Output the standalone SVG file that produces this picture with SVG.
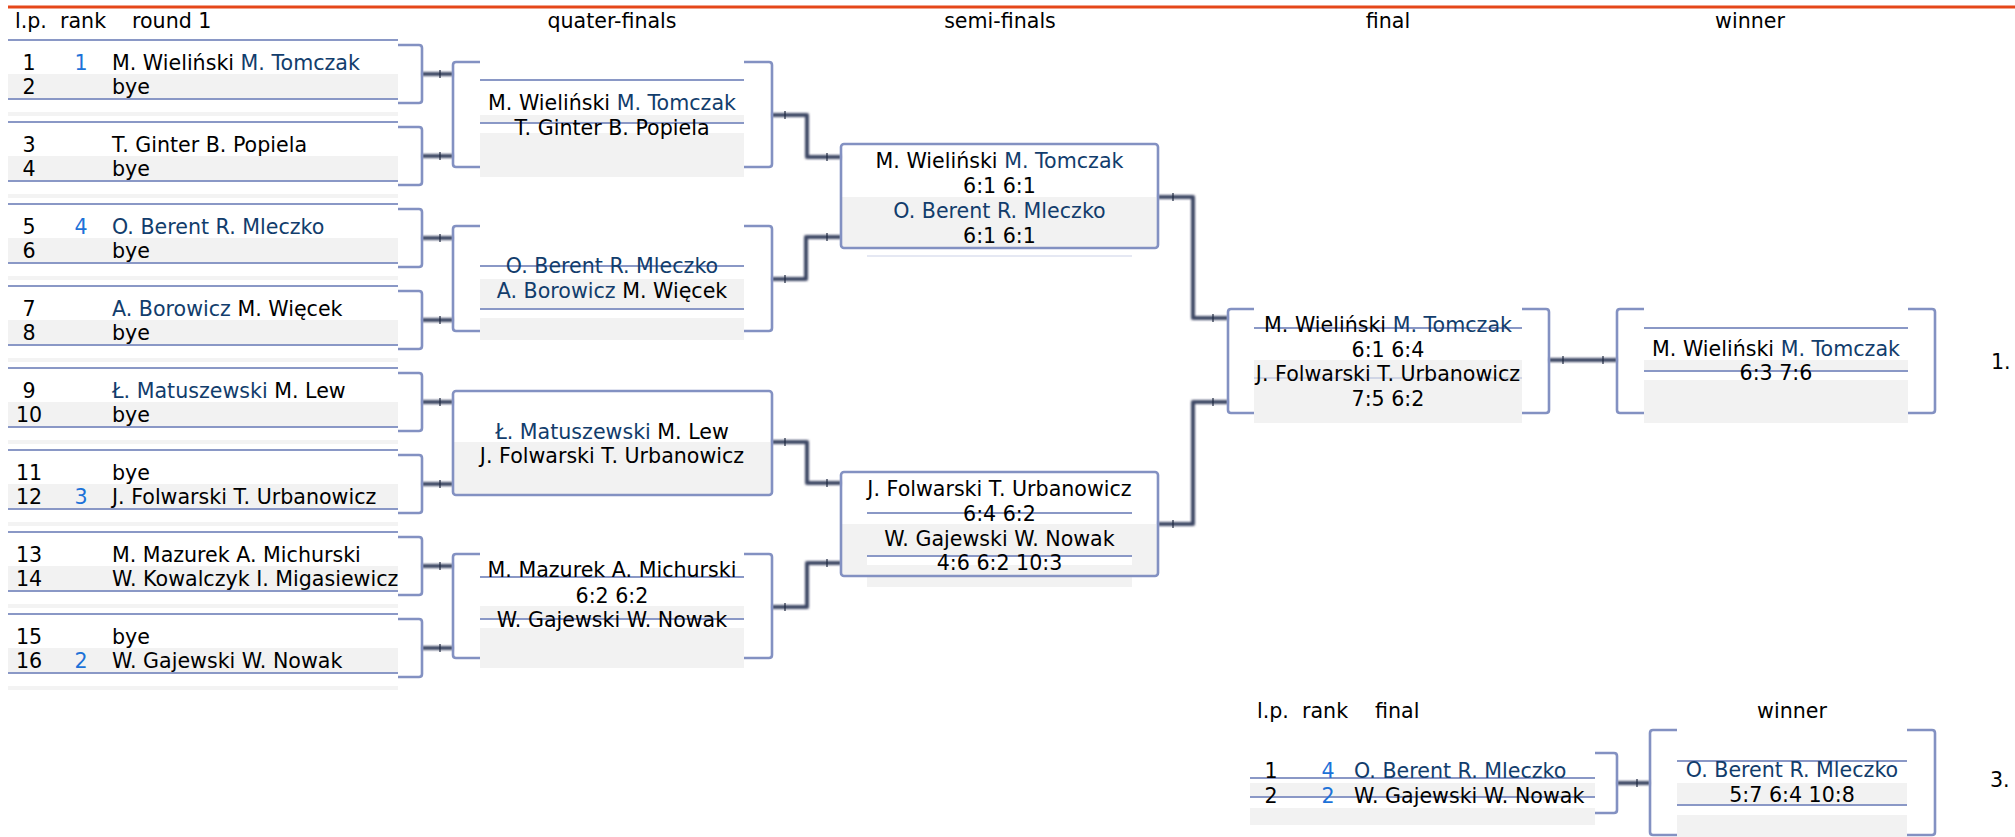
<svg xmlns="http://www.w3.org/2000/svg" width="2015" height="837" viewBox="0 0 2015 837">
<defs>
<filter id="soft" x="-5%" y="-5%" width="110%" height="110%"><feGaussianBlur stdDeviation="0.5"/></filter>
<filter id="soft2" x="-5%" y="-5%" width="110%" height="110%"><feGaussianBlur stdDeviation="0.9"/></filter>
</defs>
<style>
text{font-family:"DejaVu Sans","Liberation Sans",sans-serif;font-size:20.6px;fill:#000}
.c{text-anchor:middle}
.n{fill:#123d6c}
.r{fill:#1d72d8}
.g{fill:#f2f2f2}
.w{fill:#ffffff}
.band{fill:#f3f3f3}
.ln{stroke:#8a98c6;stroke-width:2.2;fill:none}
.fl{stroke:#9aa6cf;stroke-width:1.4;fill:none}
.br{stroke:#8391c2;stroke-width:2.6;fill:none;stroke-linejoin:round;filter:url(#soft)}
.cn{stroke:#3c4765;stroke-width:4;fill:none;stroke-linejoin:round}
.tk{stroke:#1f2840;stroke-width:1.2}
</style>
<line x1="8" y1="7" x2="2015" y2="7" stroke="#e5471a" stroke-width="3"/>
<g id="header">
<text x="15" y="28">l.p.</text><text x="60" y="28">rank</text><text x="132" y="28">round 1</text>
<text class="c" x="612" y="28">quater-finals</text>
<text class="c" x="1000" y="28">semi-finals</text>
<text class="c" x="1388" y="28">final</text>
<text class="c" x="1750" y="28">winner</text>
</g>
<g id="connectors" filter="url(#soft2)">
<path class="cn" d="M422,74H453 M422,156H453 M422,238H453 M422,320H453 M422,402H453 M422,484H453 M422,566H453 M422,648H453"/>
<path class="cn" d="M772,115H807V157H841 M772,279H806V237H841 M772,442H807V483H841 M772,607H807V563H841"/>
<path class="cn" d="M1158,197H1193V318H1228 M1158,524H1193V402H1228"/>
<path class="cn" d="M1549,360H1617"/>
<path class="cn" d="M1617,783H1650"/>
</g>
<g id="ticks">
<path class="tk" d="M440,70V78 M440,152V160 M440,234V242 M440,316V324 M440,398V406 M440,480V488 M440,562V570 M440,644V652"/>
<path class="tk" d="M785,111V119 M827,153V161 M785,275V283 M827,233V241 M785,438V446 M827,479V487 M785,603V611 M827,559V567"/>
<path class="tk" d="M1173,193V201 M1213,314V322 M1173,520V528 M1213,398V406 M1563,356V364 M1603,356V364 M1637,779V787"/>
</g>
<g id="r1-m1">
<rect class="g" x="8" y="74" width="390" height="24"/><rect class="band" x="8" y="112" width="390" height="4"/>
<path class="ln" d="M8,40H398 M8,99H398"/><path class="br" d="M398,45H419Q422,45 422,48V100Q422,103 419,103H398"/>
<text class="c" x="29" y="70">1</text><text class="c r" x="81" y="70">1</text><text x="112" y="70">M. Wieliński <tspan class="n">M. Tomczak</tspan></text>
<text class="c" x="29" y="94">2</text><text x="112" y="94">bye</text>
</g>
<g id="r1-m2">
<rect class="g" x="8" y="156" width="390" height="24"/><rect class="band" x="8" y="194" width="390" height="4"/>
<path class="ln" d="M8,122H398 M8,181H398"/><path class="br" d="M398,127H419Q422,127 422,130V182Q422,185 419,185H398"/>
<text class="c" x="29" y="152">3</text><text x="112" y="152">T. Ginter B. Popiela</text>
<text class="c" x="29" y="176">4</text><text x="112" y="176">bye</text>
</g>
<g id="r1-m3">
<rect class="g" x="8" y="238" width="390" height="24"/><rect class="band" x="8" y="276" width="390" height="4"/>
<path class="ln" d="M8,204H398 M8,263H398"/><path class="br" d="M398,209H419Q422,209 422,212V264Q422,267 419,267H398"/>
<text class="c" x="29" y="234">5</text><text class="c r" x="81" y="234">4</text><text class="n" x="112" y="234">O. Berent R. Mleczko</text>
<text class="c" x="29" y="258">6</text><text x="112" y="258">bye</text>
</g>
<g id="r1-m4">
<rect class="g" x="8" y="320" width="390" height="24"/><rect class="band" x="8" y="358" width="390" height="4"/>
<path class="ln" d="M8,286H398 M8,345H398"/><path class="br" d="M398,291H419Q422,291 422,294V346Q422,349 419,349H398"/>
<text class="c" x="29" y="316">7</text><text x="112" y="316"><tspan class="n">A. Borowicz</tspan> M. Więcek</text>
<text class="c" x="29" y="340">8</text><text x="112" y="340">bye</text>
</g>
<g id="r1-m5">
<rect class="g" x="8" y="402" width="390" height="24"/><rect class="band" x="8" y="440" width="390" height="4"/>
<path class="ln" d="M8,368H398 M8,427H398"/><path class="br" d="M398,373H419Q422,373 422,376V428Q422,431 419,431H398"/>
<text class="c" x="29" y="398">9</text><text x="112" y="398"><tspan class="n">Ł. Matuszewski</tspan> M. Lew</text>
<text class="c" x="29" y="422">10</text><text x="112" y="422">bye</text>
</g>
<g id="r1-m6">
<rect class="g" x="8" y="484" width="390" height="24"/><rect class="band" x="8" y="522" width="390" height="4"/>
<path class="ln" d="M8,450H398 M8,509H398"/><path class="br" d="M398,455H419Q422,455 422,458V510Q422,513 419,513H398"/>
<text class="c" x="29" y="480">11</text><text x="112" y="480">bye</text>
<text class="c" x="29" y="504">12</text><text class="c r" x="81" y="504">3</text><text x="112" y="504">J. Folwarski T. Urbanowicz</text>
</g>
<g id="r1-m7">
<rect class="g" x="8" y="566" width="390" height="24"/><rect class="band" x="8" y="604" width="390" height="4"/>
<path class="ln" d="M8,532H398 M8,591H398"/><path class="br" d="M398,537H419Q422,537 422,540V592Q422,595 419,595H398"/>
<text class="c" x="29" y="562">13</text><text x="112" y="562">M. Mazurek A. Michurski</text>
<text class="c" x="29" y="586">14</text><text x="112" y="586">W. Kowalczyk I. Migasiewicz</text>
</g>
<g id="r1-m8">
<rect class="g" x="8" y="648" width="390" height="24"/><rect class="band" x="8" y="686" width="390" height="4"/>
<path class="ln" d="M8,614H398 M8,673H398"/><path class="br" d="M398,619H419Q422,619 422,622V674Q422,677 419,677H398"/>
<text class="c" x="29" y="644">15</text><text x="112" y="644">bye</text>
<text class="c" x="29" y="668">16</text><text class="c r" x="81" y="668">2</text><text x="112" y="668">W. Gajewski W. Nowak</text>
</g>
<g id="qf-1">
<rect class="g" x="480" y="115" width="264" height="62"/><rect class="w" x="480" y="124" width="264" height="9"/>
<path class="ln" d="M480,80H744 M480,123H744"/>
<path class="br" d="M480,62H456Q453,62 453,65V164Q453,167 456,167H480 M744,62H769Q772,62 772,65V164Q772,167 769,167H744"/>
<text class="c" x="612" y="110">M. Wieliński <tspan class="n">M. Tomczak</tspan></text>
<text class="c" x="612" y="135">T. Ginter B. Popiela</text>
</g>
<g id="qf-2">
<rect class="g" x="480" y="279" width="264" height="61"/><rect class="w" x="480" y="310" width="264" height="8"/>
<path class="ln" d="M480,266H744 M480,309H744"/>
<path class="br" d="M480,226H456Q453,226 453,229V328Q453,331 456,331H480 M744,226H769Q772,226 772,229V328Q772,331 769,331H744"/>
<text class="c n" x="612" y="273">O. Berent R. Mleczko</text>
<text class="c" x="612" y="298"><tspan class="n">A. Borowicz</tspan> M. Więcek</text>
</g>
<g id="qf-3">
<rect class="g" x="453" y="442" width="319" height="53"/>
<rect class="br" x="453" y="391" width="319" height="104" rx="3"/>
<text class="c" x="612" y="439"><tspan class="n">Ł. Matuszewski</tspan> M. Lew</text>
<text class="c" x="612" y="463">J. Folwarski T. Urbanowicz</text>
</g>
<g id="qf-4">
<rect class="g" x="480" y="606" width="264" height="62"/><rect class="w" x="480" y="620" width="264" height="8"/>
<path class="ln" d="M480,577H744 M480,619H744"/>
<path class="br" d="M480,554H456Q453,554 453,557V655Q453,658 456,658H480 M744,554H769Q772,554 772,557V655Q772,658 769,658H744"/>
<text class="c" x="612" y="577">M. Mazurek A. Michurski</text>
<text class="c" x="612" y="603">6:2 6:2</text>
<text class="c" x="612" y="627">W. Gajewski W. Nowak</text>
</g>
<g id="sf-1">
<rect class="g" x="841" y="197" width="317" height="51"/>
<path class="fl" d="M867,256H1132" stroke-opacity="0.35"/>
<rect class="br" x="841" y="144" width="317" height="104" rx="3"/>
<text class="c" x="999.5" y="168">M. Wieliński <tspan class="n">M. Tomczak</tspan></text>
<text class="c" x="999.5" y="193">6:1 6:1</text>
<text class="c n" x="999.5" y="218">O. Berent R. Mleczko</text>
<text class="c" x="999.5" y="243">6:1 6:1</text>
</g>
<g id="sf-2">
<rect class="g" x="841" y="524" width="317" height="52"/><rect class="g" x="867" y="576" width="265" height="11"/>
<rect class="w" x="867" y="557" width="265" height="8"/>
<path class="ln" d="M867,513H1132 M867,556H1132"/>
<rect class="br" x="841" y="472" width="317" height="104" rx="3"/>
<text class="c" x="999.5" y="496">J. Folwarski T. Urbanowicz</text>
<text class="c" x="999.5" y="521">6:4 6:2</text>
<text class="c" x="999.5" y="546">W. Gajewski W. Nowak</text>
<text class="c" x="999.5" y="570">4:6 6:2 10:3</text>
</g>
<g id="final">
<rect class="g" x="1254" y="360" width="268" height="63"/>
<path class="ln" d="M1254,328H1522"/><path class="fl" d="M1254,378H1522" stroke-opacity="0.5"/>
<path class="br" d="M1254,309H1231Q1228,309 1228,312V410Q1228,413 1231,413H1254 M1522,309H1546Q1549,309 1549,312V410Q1549,413 1546,413H1522"/>
<text class="c" x="1388" y="332">M. Wieliński <tspan class="n">M. Tomczak</tspan></text>
<text class="c" x="1388" y="357">6:1 6:4</text>
<text class="c" x="1388" y="381">J. Folwarski T. Urbanowicz</text>
<text class="c" x="1388" y="406">7:5 6:2</text>
</g>
<g id="winner">
<rect class="g" x="1644" y="360" width="264" height="63"/><rect class="w" x="1644" y="372" width="264" height="8"/>
<path class="ln" d="M1644,328H1908 M1644,371H1908"/>
<path class="br" d="M1644,309H1620Q1617,309 1617,312V410Q1617,413 1620,413H1644 M1908,309H1932Q1935,309 1935,312V410Q1935,413 1932,413H1908"/>
<text class="c" x="1776" y="356">M. Wieliński <tspan class="n">M. Tomczak</tspan></text>
<text class="c" x="1776" y="380">6:3 7:6</text>
<text x="1991" y="369">1.</text>
</g>
<g id="third-header">
<text x="1257" y="718">l.p.</text><text x="1302" y="718">rank</text><text x="1375" y="718">final</text>
<text class="c" x="1792" y="718">winner</text>
</g>
<g id="third-match">
<rect class="g" x="1250" y="783" width="345" height="42"/><rect class="w" x="1250" y="798" width="345" height="10"/>
<path class="ln" d="M1250,778H1595 M1250,797H1595"/>
<path class="br" d="M1595,753H1614Q1617,753 1617,756V810Q1617,813 1614,813H1595"/>
<text class="c" x="1271" y="778">1</text><text class="c r" x="1328" y="778">4</text><text class="n" x="1354" y="778">O. Berent R. Mleczko</text>
<text class="c" x="1271" y="803">2</text><text class="c r" x="1328" y="803">2</text><text x="1354" y="803">W. Gajewski W. Nowak</text>
</g>
<g id="third-winner">
<rect class="g" x="1677" y="783" width="230" height="54"/><rect class="w" x="1677" y="806" width="230" height="9"/>
<path class="ln" d="M1677,761H1907 M1677,805H1907"/>
<path class="br" d="M1677,730H1653Q1650,730 1650,733V832Q1650,835 1653,835H1677 M1907,730H1932Q1935,730 1935,733V832Q1935,835 1932,835H1907"/>
<text class="c n" x="1792" y="777">O. Berent R. Mleczko</text>
<text class="c" x="1792" y="802">5:7 6:4 10:8</text>
<text x="1990" y="787">3.</text>
</g>
</svg>
